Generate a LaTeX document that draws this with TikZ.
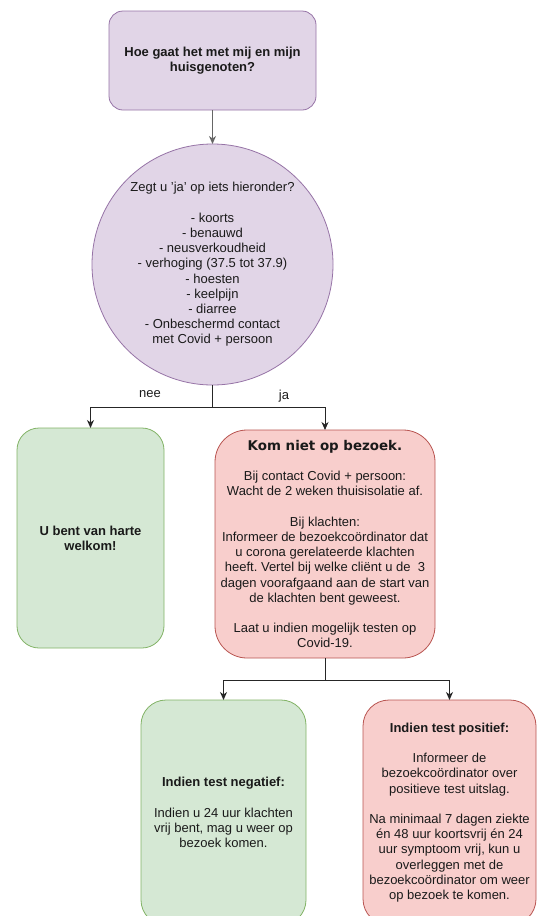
\documentclass[tikz,border=0pt]{standalone}
\usepackage{fontspec}
\setmainfont{Liberation Sans}
\newfontfamily\titlefont{DejaVu Sans}
\usetikzlibrary{arrows.meta}
\frenchspacing
\definecolor{pfill}{HTML}{E1D5E7}
\definecolor{pdraw}{HTML}{9673A6}
\definecolor{gfill}{HTML}{D5E8D4}
\definecolor{gdraw}{HTML}{82B366}
\definecolor{rfill}{HTML}{F8CECC}
\definecolor{rdraw}{HTML}{B85450}
\definecolor{txt}{HTML}{1A1A1A}
\begin{document}
\begin{tikzpicture}[x=1pt,y=-1pt,
  every node/.style={inner sep=0pt,outer sep=0pt,text=txt},
  txtfont/.style={font=\fontsize{13}{15.2}\selectfont},
  pbox/.style={draw=pdraw,fill=pfill,line width=0.8pt,txtfont,align=center},
  gbox/.style={draw=gdraw,fill=gfill,line width=0.8pt,txtfont,align=center},
  rbox/.style={draw=rdraw,fill=rfill,line width=0.8pt,txtfont,align=center},
  conn/.style={draw=black!85,line width=0.9pt},
  arr/.style={conn,-{Stealth[length=8pt,width=7pt,inset=2.5pt]}},
  lbl/.style={txtfont,fill=white}
]
\clip (0,0) rectangle (542,916);

\node[pbox,rounded corners=14pt,minimum width=207pt,minimum height=99pt] (start) at (212.5,60.5)
  {\bfseries Hoe gaat het met mij en mijn\\\bfseries huisgenoten?};

\node[pbox,circle,minimum size=241pt] (q) at (212.5,264.5)
  {Zegt u 'ja' op iets hieronder?\\[15.2pt]
   - koorts\\ - benauwd\\ - neusverkoudheid\\ - verhoging (37.5 tot 37.9)\\
   - hoesten\\ - keelpijn\\ - diarree\\ - Onbeschermd contact\\ met Covid + persoon};

\node[gbox,rounded corners=22pt,minimum width=147pt,minimum height=220pt] (welkom) at (90.5,538)
  {\bfseries U bent van harte\\\bfseries welkom!};

\node[rbox,rounded corners=32pt,minimum width=220pt,minimum height=228pt] (niet) at (325,544)
  {{\titlefont\bfseries\fontsize{13.4}{15.2}\selectfont Kom niet op bezoek.}\\[15.2pt]
   Bij contact Covid + persoon:\\ Wacht de 2 weken thuisisolatie af.\\[15.2pt]
   Bij klachten:\\ Informeer de bezoekco\"ordinator dat\\ u corona gerelateerde klachten\\
   heeft. Vertel bij welke cli\"ent u de\ \ 3\\ dagen voorafgaand aan de start van\\
   de klachten bent geweest.\\[15.2pt]
   Laat u indien mogelijk testen op\\ Covid-19.};

\node[gbox,rounded corners=25pt,minimum width=165pt,minimum height=225pt] (neg) at (223.5,812.5)
  {\bfseries Indien test negatief:\\[15.2pt]
   Indien u 24 uur klachten\\ vrij bent, mag u weer op\\ bezoek komen.};

\node[rbox,rounded corners=26pt,minimum width=173pt,minimum height=225pt] (pos) at (449.5,812.5)
  {\bfseries Indien test positief:\\[15.2pt]
   Informeer de\\ bezoekco\"ordinator over\\ positieve test uitslag.\\[15.2pt]
   Na minimaal 7 dagen ziekte\\ \'en 48 uur koortsvrij \'en 24\\ uur symptoom vrij, kun u\\
   overleggen met de\\ bezoekco\"ordinator om weer\\ op bezoek te komen.};

% connectors
\draw[arr,draw=black!60] (start.south) -- (q.north);
\coordinate (j1) at (212.5,407.5);
\draw[conn] (q.south) -- (j1);
\draw[arr] (j1) -| (welkom.north);
\draw[arr] (j1) -| (niet.north);
\node[txtfont] (nee) at (150,394) {nee};
\node[txtfont] (ja) at (284,396) {ja};

\coordinate (j2) at (325,680);
\draw[conn] (niet.south) -- (j2);
\draw[arr] (j2) -| (neg.north);
\draw[arr] (j2) -| (pos.north);
\end{tikzpicture}
\end{document}
